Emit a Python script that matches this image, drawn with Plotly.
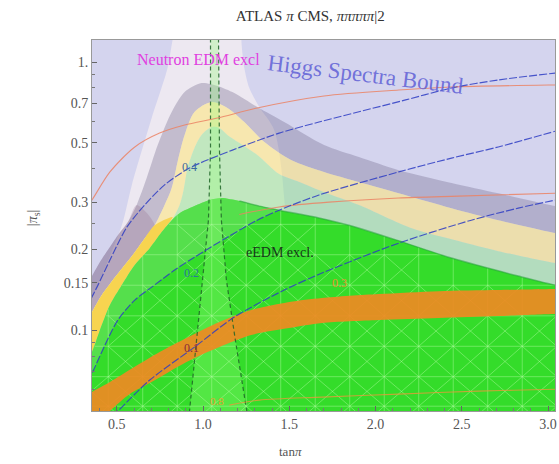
import numpy as np
import plotly.graph_objects as go

# ---- region boundaries: x = tan(beta), y = |kappa_s| ----
# outer edge of the grey (2 sigma) band
g_x = [0.30, 0.356, 0.402, 0.448, 0.506, 0.564, 0.615, 0.673, 0.737, 0.818, 0.893, 0.991, 1.083,
       1.181, 1.314, 1.470, 1.701, 1.903, 2.134, 2.440, 2.711, 3.040, 3.12]
g_y = [0.137, 0.159, 0.1794, 0.199, 0.226, 0.253, 0.293, 0.369, 0.490, 0.651, 0.773, 0.835, 0.814,
       0.766, 0.679, 0.597, 0.490, 0.442, 0.395, 0.354, 0.324, 0.290, 0.283]
# outer edge of the yellow (1 sigma) band
yl_x = [0.30, 0.356, 0.413, 0.477, 0.546, 0.604, 0.662, 0.719, 0.777, 0.818, 0.852, 0.893, 0.950,
        1.049, 1.141, 1.239, 1.355, 1.510, 1.701, 1.903, 2.134, 2.440, 2.711, 3.040, 3.12]
yl_y = [0.101, 0.1167, 0.1351, 0.1537, 0.1748, 0.195, 0.220, 0.246, 0.293, 0.339, 0.424, 0.534, 0.651,
        0.709, 0.674, 0.597, 0.503, 0.431, 0.389, 0.357, 0.324, 0.285, 0.257, 0.230, 0.225]
# upper edge of the pale green band
pg_x = [0.30, 0.356, 0.402, 0.460, 0.529, 0.604, 0.691, 0.760, 0.818, 0.864, 0.887, 0.910, 0.950,
        0.991, 1.049, 1.095, 1.141, 1.314, 1.441, 1.557, 1.701, 1.903, 2.209, 2.480, 2.711, 3.040, 3.12]
pg_y = [0.070, 0.0828, 0.100, 0.124, 0.1472, 0.1748, 0.202, 0.232, 0.257, 0.293, 0.333, 0.402, 0.478,
        0.534, 0.572, 0.567, 0.534, 0.450, 0.382, 0.357, 0.327, 0.293, 0.240, 0.215, 0.197, 0.1778, 0.175]
# upper edge of the eEDM excluded region
bg_x = [0.30, 0.356, 0.402, 0.460, 0.529, 0.604, 0.691, 0.760, 0.818, 0.864, 0.950, 1.037, 1.106,
        1.210, 1.326, 1.441, 1.672, 1.845, 2.117, 2.440, 2.827, 3.040, 3.12]
bg_y = [0.070, 0.0828, 0.100, 0.124, 0.1472, 0.1748, 0.202, 0.232, 0.257, 0.273, 0.290, 0.3055, 0.311,
        0.303, 0.290, 0.280, 0.262, 0.246, 0.217, 0.1856, 0.159, 0.1472, 0.145]
sy_tip = (0.823, 0.264)

# light funnel (edges listed top to bottom)
wf_left_x = [0.835, 0.823, 0.794, 0.702, 0.587, 0.529, 0.385, 0.30]
wf_left_y = [1.3, 1.208, 0.950, 0.618, 0.348, 0.246, 0.1446, 0.105]
wf_right_x = [1.225, 1.222, 1.239, 1.268, 1.326, 1.412, 1.470, 1.470]
wf_right_y = [1.3, 1.208, 0.950, 0.800, 0.679, 0.558, 0.311, 0.045]

# neutron EDM strip around tan(beta) ~ 1
strip_y = [1.3, 0.469, 0.257, 0.1537, 0.0918, 0.046]
strip_left_x = [1.043, 1.043, 1.031, 0.997, 0.962, 0.916]
strip_right_x = [1.089, 1.095, 1.106, 1.135, 1.187, 1.262]

# orange band
ob_top_x = [0.30, 0.356, 0.460, 0.592, 0.748, 0.904, 1.095, 1.279, 1.499, 1.689, 2.018, 2.365, 2.711, 3.040, 3.12]
ob_top_y = [0.055, 0.0587, 0.0640, 0.0722, 0.0828, 0.0934, 0.1071, 0.1187, 0.1272, 0.1317, 0.1362,
            0.1397, 0.1410, 0.1422, 0.1425]
ob_bot_x = [0.30, 0.356, 0.460, 0.575, 0.691, 0.904, 1.095, 1.279, 1.499, 1.689, 2.018, 2.365, 2.711, 3.040, 3.12]
ob_bot_y = [0.040, 0.0435, 0.0499, 0.0577, 0.0634, 0.0760, 0.0864, 0.0958, 0.1017, 0.1062, 0.1090,
            0.1109, 0.1128, 0.1147, 0.115]

# contour lines (blue) and salmon lines
l1_x = [0.30, 0.356, 0.385, 0.460, 0.558, 0.662, 0.777, 0.921, 1.170, 1.441, 1.672, 2.174, 2.440, 2.711, 3.046, 3.12]
l1_y = [0.112, 0.133, 0.1446, 0.1825, 0.242, 0.293, 0.348, 0.402, 0.469, 0.543, 0.597, 0.722, 0.800, 0.857, 0.910, 0.92]
l2_x = [0.30, 0.356, 0.431, 0.506, 0.604, 0.702, 0.835, 0.950, 1.141, 1.314, 1.441, 1.672, 2.134, 2.440, 2.711, 3.046, 3.12]
l2_y = [0.060, 0.0691, 0.0879, 0.109, 0.1294, 0.1446, 0.1674, 0.187, 0.222, 0.257, 0.280, 0.319, 0.389,
        0.438, 0.482, 0.553, 0.57]
l3_x = [0.431, 0.506, 0.691, 0.950, 1.181, 1.470, 1.689, 2.134, 2.555, 2.827, 3.046, 3.12]
l3_y = [0.045, 0.0499, 0.0651, 0.0864, 0.1118, 0.141, 0.1632, 0.211, 0.257, 0.285, 0.3055, 0.31]
o1_x = [0.30, 0.356, 0.460, 0.604, 0.748, 0.893, 1.083, 1.314, 1.701, 2.134, 2.440, 3.046, 3.12]
o1_y = [0.27, 0.3055, 0.389, 0.482, 0.543, 0.582, 0.618, 0.674, 0.747, 0.786, 0.807, 0.821, 0.822]
o2_x = [1.21, 1.441, 1.730, 2.134, 2.480, 3.046, 3.12]
o2_y = [0.27, 0.288, 0.300, 0.311, 0.316, 0.324, 0.325]
o3_x = [1.152, 1.326, 1.689, 2.134, 2.596, 3.046, 3.12]
o3_y = [0.0525, 0.0548, 0.0562, 0.0577, 0.0592, 0.0602, 0.0605]

# triangulation mesh drawn inside the eEDM region
mesh_x = [0.25, 0.45, 0.65, 0.85, 1.05, 1.25, 1.45, 1.65, 1.85, 2.05, 2.25, 2.45, 2.65, 2.85, 3.05, 3.25]
mesh_y = [0.040, 0.052, 0.067, 0.087, 0.113, 0.147, 0.191, 0.248, 0.32]

# axis ticks
x_ticks = [0.5, 1.0, 1.5, 2.0, 2.5, 3.0]
x_ticktext = ["0.5", "1.0", "1.5", "2.0", "2.5", "3.0"]
y_ticks = [0.1, 0.15, 0.2, 0.3, 0.5, 0.7, 1.0]
y_ticktext = ["0.1", "0.15", "0.2", "0.3", "0.5", "0.7", "1."]
y_minor = [0.06, 0.07, 0.08, 0.09, 0.25, 0.4, 0.6, 0.8, 0.9]

X_RANGE = [0.356, 3.04]
Y_RANGE = [0.0499, 1.208]
Y_FLOOR = 0.045
SERIF = "Liberation Serif, Times New Roman, serif"

fig = go.Figure()


def area(xs, ys, color, shape="spline"):
    fig.add_trace(go.Scatter(x=xs, y=ys, mode="lines", fill="toself", fillcolor=color,
                             line=dict(width=0, shape=shape, smoothing=0.8),
                             hoverinfo="skip", showlegend=False))


def curve(xs, ys, color, width=1.0, dash="solid", shape="spline"):
    fig.add_trace(go.Scatter(x=xs, y=ys, mode="lines",
                             line=dict(color=color, width=width, dash=dash, shape=shape, smoothing=0.8),
                             hoverinfo="skip", showlegend=False, connectgaps=False))


def band(ox, oy, ix, iy):
    return list(ox) + list(ix[::-1]), list(oy) + list(iy[::-1])


def under(xs, ys):
    return [xs[0]] + list(xs) + [xs[-1]], [Y_FLOOR] + list(ys) + [Y_FLOOR]


# light funnel
area(wf_left_x + [0.30] + wf_right_x[::-1], wf_left_y + [Y_FLOOR] + wf_right_y[::-1], "rgb(237,232,241)")

# grey band and its darker lower-left part
bx, by = band(g_x, g_y, yl_x, yl_y)
area(bx, by, "rgba(105,95,135,0.32)")
n_low = 7
bx, by = band(g_x[:n_low], g_y[:n_low], yl_x[:n_low + 1], yl_y[:n_low + 1])
area(bx, by, "rgba(130,80,120,0.20)")

# yellow band
bx, by = band(yl_x, yl_y, pg_x, pg_y)
area(bx, by, "rgba(255,230,120,0.55)")

# pale green band
ux, uy = under(pg_x, pg_y)
area(ux, uy, "rgba(140,230,130,0.45)")

# saturated yellow wedge on the left
n_sy = 8
sy_x = yl_x[:n_sy] + [sy_tip[0]] + bg_x[:n_sy][::-1]
sy_y = yl_y[:n_sy] + [sy_tip[1]] + bg_y[:n_sy][::-1]
area(sy_x, sy_y, "rgb(247,212,80)")

# eEDM excluded region
ux, uy = under(bg_x, bg_y)
area(ux, uy, "rgb(52,220,42)")

# lighter green between region edge and the 0.2 contour
n_mg = bg_x.index(1.441) + 1
m2 = l2_x.index(1.441) + 1
mg_x = bg_x[:n_mg] + l2_x[:m2][::-1]
mg_y = bg_y[:n_mg] + l2_y[:m2][::-1]
area(mg_x, mg_y, "rgba(150,230,140,0.35)")

# neutron EDM strip
area(strip_left_x + strip_right_x[::-1], strip_y + strip_y[::-1], "rgba(150,255,120,0.33)", shape="linear")

# mesh lines clipped to the eEDM region
bg_lx = np.array(bg_x)
bg_ly = np.log10(np.array(bg_y))


def bg_top(x):
    return 10 ** np.interp(x, bg_lx, bg_ly)


mx, my = [], []
for c in mesh_x:
    mx += [c, c, None]
    my += [Y_FLOOR, float(bg_top(c)), None]
xx = np.linspace(0.30, 3.12, 800)
for c in mesh_y:
    inside = bg_top(xx) >= c
    i = 0
    while i < len(xx):
        if inside[i]:
            j = i
            while j + 1 < len(xx) and inside[j + 1]:
                j += 1
            mx += [float(xx[i]), float(xx[j]), None]
            my += [c, c, None]
            i = j + 1
        else:
            i += 1
for a in range(len(mesh_x) - 1):
    x0, x1 = mesh_x[a], mesh_x[a + 1]
    for b in range(len(mesh_y) - 1):
        y0, y1 = mesh_y[b], mesh_y[b + 1]
        if bg_top(x0) >= y1 and bg_top(x1) >= y1:
            mx += [x0, x1, None, x0, x1, None]
            my += [y0, y1, None, y1, y0, None]
fig.add_trace(go.Scatter(x=mx, y=my, mode="lines", line=dict(color="rgba(185,255,170,0.42)", width=1),
                         hoverinfo="skip", showlegend=False, connectgaps=False))

# orange band
bx, by = band(ob_top_x, ob_top_y, ob_bot_x, ob_bot_y)
area(bx, by, "rgba(238,138,34,0.93)")

# darker rim along the right part of the eEDM edge
k = bg_x.index(1.210)
curve(bg_x[k:], bg_y[k:], "rgba(40,160,60,0.55)", width=1.5)

# strip borders
curve(strip_left_x, strip_y, "rgba(30,100,40,0.85)", width=1.2, dash="4px,3px", shape="linear")
curve(strip_right_x, strip_y, "rgba(30,100,40,0.85)", width=1.2, dash="4px,3px", shape="linear")

# salmon lines
curve(o1_x, o1_y, "rgba(235,130,100,0.85)", width=1.1)
curve(o2_x, o2_y, "rgba(235,130,100,0.85)", width=1.1)
curve(o3_x, o3_y, "rgba(240,150,60,0.75)", width=1.1)

# blue contours
for cx, cy in [(l1_x, l1_y), (l2_x, l2_y), (l3_x, l3_y)]:
    curve(cx, cy, "rgba(45,60,195,0.85)", width=1.15, dash="8px,2px")

# labels
labels = [
    dict(x=0.975, y=1.02, text="Neutron EDM excl", font=dict(family=SERIF, size=16, color="#e040e0"), textangle=0),
    dict(x=1.94, y=0.90, text="Higgs Spectra Bound", font=dict(family=SERIF, size=23, color="rgba(100,100,215,0.9)"), textangle=7),
    dict(x=1.447, y=0.194, text="eEDM excl.", font=dict(family=SERIF, size=14, color="#17381a"), textangle=0),
    dict(x=0.921, y=0.405, text="0.4", font=dict(family=SERIF, size=12, color="#3a6aa0"), textangle=0),
    dict(x=0.933, y=0.163, text="0.2", font=dict(family=SERIF, size=12, color="#2a7a9a"), textangle=0),
    dict(x=0.933, y=0.0857, text="0.1", font=dict(family=SERIF, size=12, color="#8a2a3a"), textangle=0),
    dict(x=1.788, y=0.150, text="0.3", font=dict(family=SERIF, size=12, color="#e89030"), textangle=0),
    dict(x=1.083, y=0.0545, text="0.8", font=dict(family=SERIF, size=11, color="#e8a030"), textangle=0),
]
for lab in labels:
    fig.add_annotation(x=lab["x"], y=np.log10(lab["y"]), xref="x", yref="y", text=lab["text"],
                       showarrow=False, font=lab["font"], textangle=lab["textangle"],
                       xanchor="center", yanchor="middle")

# axis titles
fig.add_annotation(x=1.505, y=-0.11, xref="x", yref="paper", text="tan<i>π</i>", showarrow=False,
                   font=dict(family=SERIF, size=13, color="#555"), yanchor="middle")
fig.add_annotation(x=-0.15, y=0.52, xref="paper", yref="paper", text="|<i>π</i><sub>s</sub>|", showarrow=False,
                   textangle=-90, font=dict(family=SERIF, size=14, color="#555"))

fig.update_layout(
    width=559, height=464,
    margin=dict(l=92, r=2, t=40, b=53),
    paper_bgcolor="white",
    plot_bgcolor="rgb(212,212,238)",
    title=dict(text="ATLAS <i>π</i> CMS, <i>πππππ</i>|2", x=0.555, xref="container", xanchor="center",
               y=0.965, yref="container", yanchor="middle", font=dict(family=SERIF, size=15, color="#333")),
    xaxis=dict(range=X_RANGE, tickvals=x_ticks, ticktext=x_ticktext, ticks="inside", ticklen=5,
               tickcolor="#666", showgrid=False, zeroline=False, showline=True, linecolor="#999",
               mirror=True, tickfont=dict(family=SERIF, size=14, color="#555"),
               minor=dict(dtick=0.1, ticks="inside", ticklen=3, tickcolor="#777", showgrid=False)),
    yaxis=dict(type="log", range=[np.log10(Y_RANGE[0]), np.log10(Y_RANGE[1])], tickvals=y_ticks,
               ticktext=y_ticktext, ticks="inside", ticklen=5, tickcolor="#666", showgrid=False,
               zeroline=False, showline=True, linecolor="#999", mirror=True,
               tickfont=dict(family=SERIF, size=14, color="#555"),
               minor=dict(tickvals=y_minor, ticks="inside", ticklen=3, tickcolor="#777", showgrid=False)),
)

fig.write_html("out.html")
